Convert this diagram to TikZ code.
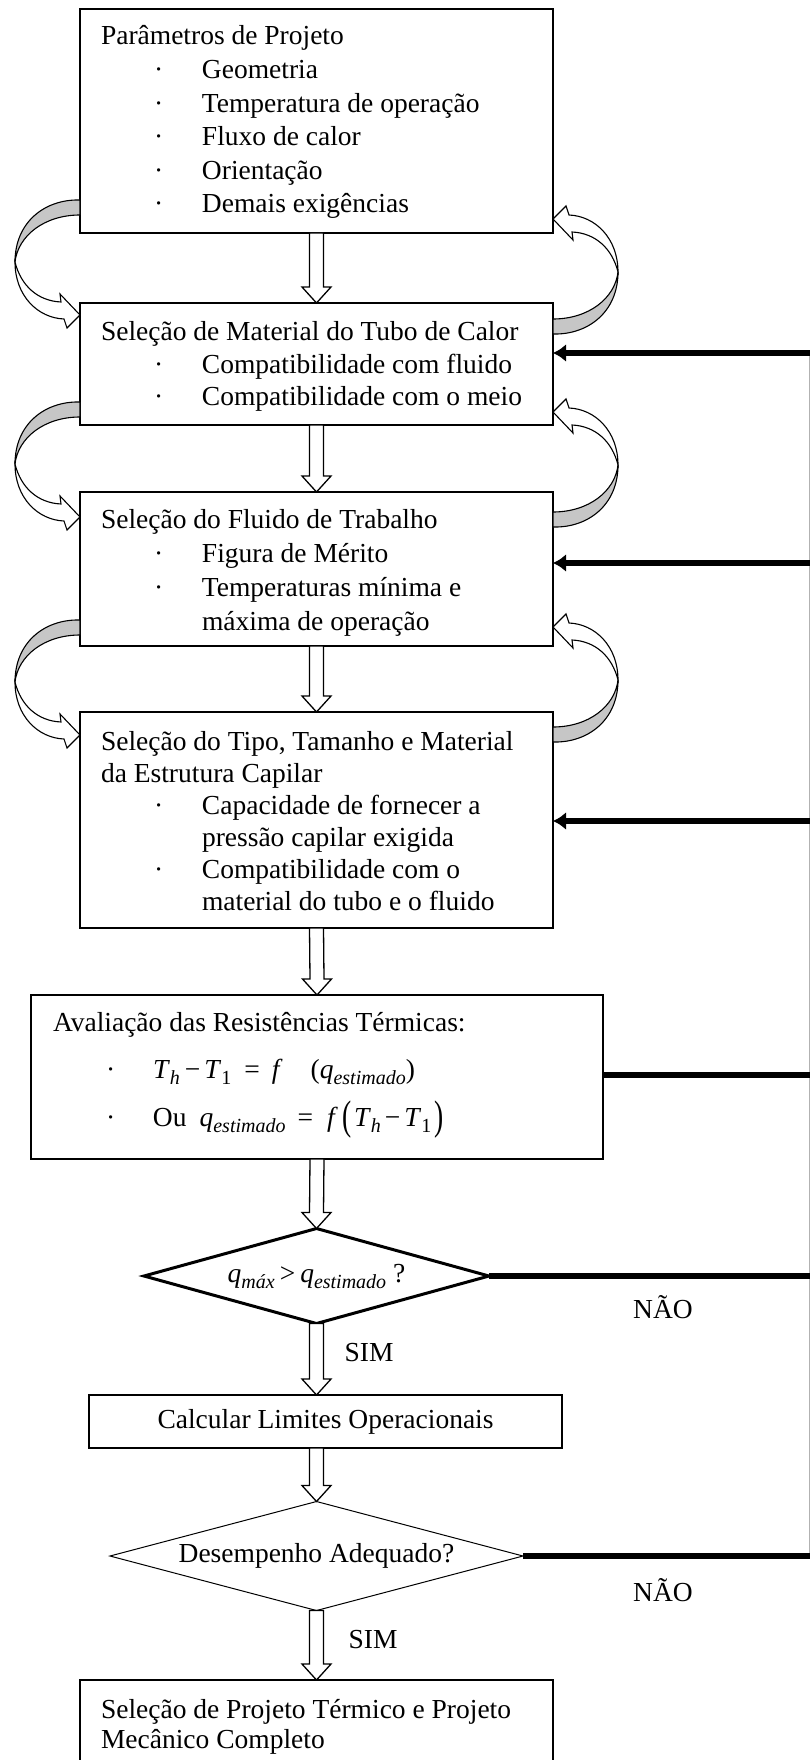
\documentclass[tikz,border=0pt]{standalone}
\usepackage{fontspec}
\setmainfont{Liberation Serif}
\usetikzlibrary{calc,arrows.meta,shapes.geometric}

\newcommand\tline[1]{\hbox{#1}}
\newcommand\bitem[1]{\hbox{\kern53pt\hbox to48pt{·\hss}#1}}
\newcommand\bcont[1]{\hbox{\kern101pt #1}}
\newcommand\eitem[1]{\hbox{\kern53pt\hbox to47pt{·\hss}#1}}
\newcommand\sbx[1]{\raisebox{-6pt}{\fontsize{20}{20}\selectfont #1}}
\newcommand\bigpar[1]{\raisebox{-3pt}{\scalebox{1}[1.5]{#1}}}
\newcommand\harrow[2]{\draw[hol] ($#1+(-7,0)$) -- ($#2+(-7,16)$) -- ($#2+(-14.5,16)$) -- #2 -- ($#2+(14.5,16)$) -- ($#2+(7,16)$) -- ($#1+(7,0)$) -- cycle;}
\newcommand\carrow{%
  \draw[cgrey] (0,0) .. controls (-35,-1) and (-65,22) .. (-65,62)
     .. controls (-62,36) and (-36,15) .. (0,15) -- cycle;
  \draw[cwhite] (-65,62) .. controls (-65,96) and (-42,118) .. (-16,119)
     -- (-13,128) -- (0,115) -- (-20,94) -- (-19,102)
     .. controls (-42,101) and (-59,86) .. (-65,62) -- cycle;}

\begin{document}
\begin{tikzpicture}[x=1pt,y=1pt,
  font=\fontsize{27.5}{33}\selectfont,
  box/.style={draw, line width=1.6pt, rectangle, inner sep=0pt, outer sep=0pt, anchor=north west},
  txt/.style={inner sep=0pt, outer sep=0pt, anchor=base west},
  hol/.style={draw, fill=white, line width=1.3pt, line join=miter},
  cgrey/.style={draw, fill=gray!45, line width=1.1pt, line join=round},
  cwhite/.style={draw, fill=white, line width=1.1pt, line join=miter},
  fb/.style={line width=6.5pt},
  fbarrow/.style={fb, -{Latex[length=13pt,width=18pt]}},
  bus/.style={line width=1pt, draw=gray!60},
  dia/.style={diamond, draw, inner sep=0pt, outer sep=0pt},
  lbl/.style={inner sep=0pt}]
\useasboundingbox (0,0) rectangle (810,-1760);
\clip (0,0) rectangle (810,-1760);
\fill[white] (0,0) rectangle (810,-1760);

% boxes
\node[box, minimum width=473pt, minimum height=224pt] (b1) at (80,-9) {};
\node[box, minimum width=473pt, minimum height=122pt] (b2) at (80,-303) {};
\node[box, minimum width=473pt, minimum height=154pt] (b3) at (80,-492) {};
\node[box, minimum width=473pt, minimum height=216pt] (b4) at (80,-712) {};
\node[box, minimum width=572pt, minimum height=164pt] (b5) at (31,-995) {};
\node[dia, line width=3pt, aspect=3.63, minimum width=345pt, minimum height=95pt] (d1) at (316.5,-1276)
  {\textit{q}\sbx{\textit{máx}}\hspace{5pt}>\hspace{5pt}\textit{q}\sbx{\textit{estimado}} ?};
\node[box, minimum width=473pt, minimum height=53pt, anchor=north west] (b6) at (89,-1395) {Calcular Limites Operacionais};
\node[dia, line width=1pt, aspect=3.79, minimum width=413pt, minimum height=109pt] (d2) at (316.5,-1556)
  {Desempenho Adequado?};
\node[box, minimum width=473pt, minimum height=130pt] (b7) at (80,-1680) {};

% texts
\node[txt] (t1) at (101,-45) {\vtop{\baselineskip=33.6pt
  \tline{Parâmetros de Projeto}
  \bitem{Geometria}
  \bitem{Temperatura de operação}
  \bitem{Fluxo de calor}
  \bitem{Orientação}
  \bitem{Demais exigências}}};
\node[txt] (t2) at (101,-340) {\vtop{\baselineskip=33pt
  \tline{Seleção de Material do Tubo de Calor}
  \bitem{Compatibilidade com fluido}
  \bitem{Compatibilidade com o meio}}};
\node[txt] (t3) at (101,-528) {\vtop{\baselineskip=34.3pt
  \tline{Seleção do Fluido de Trabalho}
  \bitem{Figura de Mérito}
  \bitem{Temperaturas mínima e}
  \bcont{máxima de operação}}};
\node[txt] (t4) at (101,-750) {\vtop{\baselineskip=32pt
  \tline{Seleção do Tipo, Tamanho e Material}
  \tline{da Estrutura Capilar}
  \bitem{Capacidade de fornecer a}
  \bcont{pressão capilar exigida}
  \bitem{Compatibilidade com o}
  \bcont{material do tubo e o fluido}}};
\node[txt] (t5) at (53,-1031) {\vtop{\baselineskip=47.5pt
  \tline{Avaliação das Resistências Térmicas:}
  \eitem{\textit{T}\sbx{\textit{h}}\hspace{5pt}−\hspace{4pt}\textit{T}\sbx{1}\hspace{13pt}=\hspace{12pt}\textit{f}\hspace{28pt}(\textit{q}\sbx{\textit{estimado}})}
  \eitem{Ou\hspace{13pt}\textit{q}\sbx{\textit{estimado}}\hspace{12pt}=\hspace{14pt}\textit{f}\hspace{5pt}\bigpar{(}\hspace{2pt}\textit{T}\sbx{\textit{h}}\hspace{4pt}−\hspace{4pt}\textit{T}\sbx{1}\hspace{3pt}\bigpar{)}}}};
\node[txt] (t7) at (101,-1718) {\vtop{\baselineskip=30pt
  \tline{Seleção de Projeto Térmico e Projeto}
  \tline{Mecânico Completo}}};

% hollow straight arrows
\coordinate (a6) at (d1.south |- b6.north);
\coordinate (a7) at (d2.north |- b6.south);
\harrow{(b1.south)}{(b2.north)}
\harrow{(b2.south)}{(b3.north)}
\harrow{(b3.south)}{(b4.north)}
\harrow{(b4.south)}{(b5.north)}
\harrow{(b5.south)}{(d1.north)}
\harrow{(d1.south)}{(a6)}
\harrow{(a7)}{(d2.north)}
\harrow{(d2.south)}{(b7.north)}

% SIM / NAO labels
\node[lbl] (sim1) at (369,-1353) {SIM};
\node[lbl] (sim2) at (373,-1640) {SIM};
\node[lbl] (nao1) at (663,-1307) {NÃO};
\node[lbl] (nao2) at (663,-1590) {NÃO};

% curved arrows, left (down) and right (up)
\begin{scope}[shift={(80,-200)}, yscale=-1]\carrow\end{scope}
\begin{scope}[shift={(553,-334)}, xscale=-1]\carrow\end{scope}
\begin{scope}[shift={(80,-402)}, yscale=-1]\carrow\end{scope}
\begin{scope}[shift={(553,-527)}, xscale=-1]\carrow\end{scope}
\begin{scope}[shift={(80,-620)}, yscale=-1]\carrow\end{scope}
\begin{scope}[shift={(553,-742)}, xscale=-1]\carrow\end{scope}

% feedback lines (return bus at the right edge)
\coordinate (e2) at (809.5,-353);
\coordinate (e3) at (809.5,-563);
\coordinate (e4) at (809.5,-821);
\coordinate (e5) at (809.5,-1075);
\coordinate (e6) at (809.5,-1276);
\coordinate (e7) at (809.5,-1556);
\draw[bus] (e7) -- (e2);
\draw[fbarrow] (e2) -- (e2 -| b2.east);
\draw[fbarrow] (e3) -- (e3 -| b3.east);
\draw[fbarrow] (e4) -- (e4 -| b4.east);
\draw[fb] (b5.east |- e5) -- (e5);
\draw[fb] (d1.east) -- (e6);
\draw[fb] (d2.east) -- (e7);
\end{tikzpicture}
\end{document}
